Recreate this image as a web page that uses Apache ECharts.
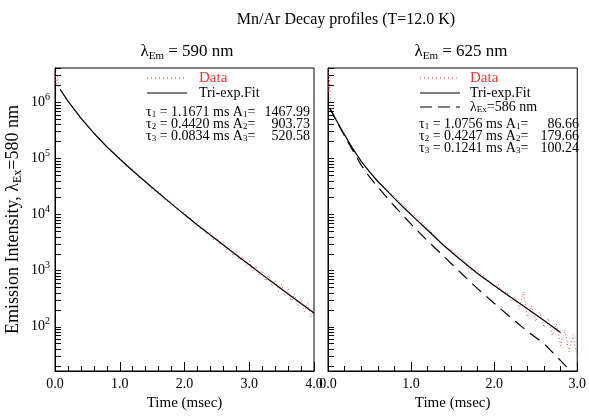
<!DOCTYPE html>
<html>
<head>
<meta charset="utf-8">
<title>Mn/Ar Decay profiles</title>
<script src="https://cdn.jsdelivr.net/npm/echarts@6/dist/echarts.min.js"></script>
<style>
html, body { margin: 0; padding: 0; background: #fff; }
#decay-profiles { width: 589px; height: 416px; }
</style>
</head>
<body>
<div id="decay-profiles"></div>
<script>
// left panel (lambda_Em = 590 nm), time in msec
var dataTimeLeft = [0.00, 0.02, 0.04, 0.06, 0.10, 0.20, 0.30, 0.40, 0.50, 0.60, 0.70, 0.80, 0.90, 1.00,
    1.10, 1.20, 1.30, 1.40, 1.50, 1.60, 1.70, 1.80, 1.90, 2.00, 2.05, 2.10, 2.15, 2.20, 2.25, 2.30,
    2.35, 2.40, 2.45, 2.50, 2.55, 2.60, 2.65, 2.70, 2.75, 2.80, 2.85, 2.90, 2.95, 3.00, 3.05, 3.10,
    3.15, 3.20, 3.25, 3.30, 3.35, 3.40, 3.45, 3.50, 3.55, 3.60, 3.65, 3.70, 3.75, 3.80, 3.85, 3.90,
    3.95, 4.00];
var dataLeft = [3.4e6, 2.0e6, 2.9e6, 1.9e6, 1.58e6, 1.03e6, 7.6e5, 5.2e5, 3.95e5, 2.8e5, 2.2e5, 1.58e5,
    1.30e5, 1.02e5, 7.3e4, 6.4e4, 4.55e4, 4.0e4, 2.85e4, 2.6e4, 1.82e4, 1.65e4, 1.17e4, 1.08e4, 8.4e3,
    8.7e3, 6.7e3, 7.1e3, 5.4e3, 5.8e3, 4.3e3, 4.8e3, 3.55e3, 3.9e3, 2.85e3, 3.2e3, 2.3e3, 2.65e3, 1.85e3,
    2.2e3, 1.5e3, 1.8e3, 1.22e3, 1.5e3, 1.0e3, 1.22e3, 800, 1.0e3, 650, 830, 530, 680, 430, 570, 350,
    470, 285, 390, 230, 320, 185, 265, 150, 215];
var fitTimeLeft = [0.08, 0.2, 0.4, 0.6, 0.8, 1.0, 1.2, 1.4, 1.6, 1.8, 2.0, 2.2, 2.4, 2.6, 2.8, 3.0,
    3.2, 3.4, 3.6, 3.8, 4.0];
var fitLeft = [1.70e6, 1.05e6, 5.25e5, 2.82e5, 1.62e5, 9.77e4, 6.03e4, 3.80e4, 2.43e4, 1.55e4, 1.0e4,
    6530, 4315, 2864, 1905, 1274, 851, 571, 385, 260, 176];

// right panel (lambda_Em = 625 nm)
var dataTimeRight = [0.00, 0.01, 0.02, 0.03, 0.05, 0.10, 0.20, 0.30, 0.40, 0.50, 0.60, 0.70, 0.80, 0.90,
    1.00, 1.10, 1.20, 1.30, 1.40, 1.50, 1.60, 1.70, 1.80, 1.90, 2.00, 2.05, 2.10, 2.15, 2.20, 2.25,
    2.30, 2.35, 2.40, 2.45, 2.50, 2.55, 2.60, 2.65, 2.70, 2.75, 2.80, 2.85, 2.90, 2.95, 3.00];
var dataRight = [4.0e6, 1.5e6, 2.8e6, 1.0e6, 7.0e5, 4.9e5, 2.6e5, 1.52e5, 8.8e4, 5.9e4, 3.85e4, 2.85e4,
    2.1e4, 1.5e4, 1.1e4, 8.2e3, 5.7e3, 3.9e3, 2.7e3, 2.25e3, 1.8e3, 1.05e3, 980, 740, 520, 580, 380,
    430, 280, 340, 205, 420, 150, 235, 125, 180, 98, 140, 70, 112, 46, 88, 36, 72, 29];
var fitTimeRight = [0.02, 0.1, 0.2, 0.3, 0.4, 0.5, 0.6, 0.7, 0.8, 0.9, 1.0, 1.2, 1.4, 1.6, 1.8, 2.0,
    2.2, 2.4, 2.6, 2.8];
var fitRight = [7.94e5, 4.79e5, 2.63e5, 1.48e5, 8.91e4, 5.75e4, 3.89e4, 2.75e4, 1.95e4, 1.38e4, 1.0e4,
    5.25e3, 2.75e3, 1.55e3, 891, 543, 335, 209, 130, 79];
var exTimeRight = [0.02, 0.1, 0.2, 0.3, 0.4, 0.5, 0.6, 0.7, 0.8, 0.9, 1.0, 1.2, 1.4, 1.6, 1.8, 2.0,
    2.2, 2.4, 2.6, 2.8, 2.9, 3.0];
var exRight = [7.94e5, 4.68e5, 2.51e5, 1.38e5, 7.59e4, 4.68e4, 3.09e4, 2.09e4, 1.41e4, 9.77e3, 6.76e3,
    3.39e3, 1.76e3, 912, 479, 263, 146, 83, 50, 25, 17.4, 12];

// fit parameters printed in the panels: [tau (ms), A]
var paramsLeft = [['1.1671', '1467.99'], ['0.4420', '903.73'], ['0.0834', '520.58']];
var paramsRight = [['1.0756', '86.66'], ['0.4247', '179.66'], ['0.1241', '100.24']];

var decadeTicks = [1e2, 1e3, 1e4, 1e5, 1e6];
var yMin = 16.3, yMax = 4.1e6;

var SERIF = '"Liberation Serif", "DejaVu Serif", serif';
var RED = '#ee3a36';

var DecayChart = function() {

    var zip = function(xs, ys) {
        return xs.map(function(x, i) { return [x, ys[i]]; });
    };

    // decades plus 2..9 x 10^n between the axis ends
    var logTicks = function() {
        var out = [];
        for (var e = 1; e <= 6; e++) {
            for (var m = 1; m <= 9; m++) {
                var v = m * Math.pow(10, e);
                if (v > yMin && v < yMax) out.push(v);
            }
        }
        return out;
    };

    var xAxis = function(grid, max) {
        return {
            type: 'value', gridIndex: grid, min: 0, max: max, interval: 1,
            axisLine: { lineStyle: { color: '#000', width: 1 } },
            axisTick: { inside: true, length: 9, lineStyle: { color: '#000' } },
            minorTick: { show: true, splitNumber: 5, length: 5, lineStyle: { color: '#000' } },
            splitLine: { show: false },
            axisLabel: {
                color: '#000', fontFamily: SERIF, fontSize: 14, margin: 6,
                formatter: function(v) { return v.toFixed(1); }
            },
            name: 'Time (msec)', nameLocation: 'middle', nameGap: 25,
            nameTextStyle: { color: '#000', fontFamily: SERIF, fontSize: 15 }
        };
    };

    var yAxis = function(grid, withLabels) {
        var axis = {
            type: 'log', logBase: 10, gridIndex: grid, min: yMin, max: yMax,
            axisLine: { show: true, lineStyle: { color: '#000', width: 1 } },
            axisTick: { inside: true, length: 6, customValues: logTicks(), lineStyle: { color: '#000' } },
            splitLine: { show: false },
            axisLabel: {
                show: withLabels, customValues: decadeTicks, margin: 5,
                color: '#000', fontFamily: SERIF, fontSize: 14, lineHeight: 20,
                formatter: function(v) { return '10{sup|' + Math.round(Math.log10(v)) + '}'; },
                rich: { sup: { fontFamily: SERIF, fontSize: 10, color: '#000', verticalAlign: 'top', lineHeight: 12 } }
            }
        };
        if (withLabels) {
            axis.name = 'Emission Intensity, \u03bb{sub|Ex}=580 nm';
            axis.nameLocation = 'middle';
            axis.nameRotate = 90;
            axis.nameGap = 31;
            axis.nameTextStyle = {
                color: '#000', fontFamily: SERIF, fontSize: 18, lineHeight: 22,
                rich: { sub: { fontFamily: SERIF, fontSize: 12, color: '#000', verticalAlign: 'bottom', lineHeight: 14 } }
            };
        }
        return axis;
    };

    var text = function(x, y, str, opts) {
        opts = opts || {};
        return {
            type: 'text', x: x, y: y, z: 100,
            style: {
                text: str,
                fill: opts.fill || '#000',
                font: (opts.size || 14) + 'px ' + SERIF,
                textAlign: opts.align || 'left', align: opts.align || 'left',
                textVerticalAlign: 'middle', verticalAlign: 'middle',
                rich: {
                    sub: { fontFamily: SERIF, fontSize: 9, fill: '#000', verticalAlign: 'bottom', lineHeight: 10 }
                }
            }
        };
    };

    var sample = function(x1, x2, y, color, dash) {
        return {
            type: 'line', z: 100,
            shape: { x1: x1, y1: y, x2: x2, y2: y },
            style: { stroke: color, lineWidth: dash === 'dot' ? 1 : 1.2, lineDash: dash === 'dot' ? [1, 3] : dash }
        };
    };

    var legend = function(x0, textX, rows, params, numRight, paramTop) {
        var els = [];
        rows.forEach(function(r) {
            els.push(sample(x0, x0 + 40, r.y, r.color, r.dash));
            els.push(text(textX, r.y, r.label, { size: r.size || 14, fill: r.textColor || '#000' }));
        });
        params.forEach(function(p, i) {
            var n = i + 1, y = paramTop + i * 12;
            els.push(text(x0 - 1, y, '\u03c4{sub|' + n + '} = ' + p[0] + ' ms A{sub|' + n + '}='));
            els.push(text(numRight, y, p[1], { align: 'right' }));
        });
        return els;
    };

    var lineSeries = function(name, xi, yi, data, style, z) {
        return {
            name: name, type: 'line', xAxisIndex: xi, yAxisIndex: yi,
            data: data, showSymbol: false, symbol: 'none', smooth: false,
            lineStyle: style, z: z, silent: true
        };
    };

    var _chart = function(id) {
        if (typeof echarts == 'undefined') {
            console.warn('Warning - echarts.min.js is not loaded.');
            return;
        }
        var el = document.getElementById(id);
        if (!el) return;

        var gridStyle = { show: true, borderColor: '#000', borderWidth: 1, backgroundColor: 'transparent' };
        var dataStyle = { color: '#f04848', width: 1, type: [1, 2.5] };
        var fitStyle = { color: '#000', width: 1.2 };
        var subTitle = {
            fontFamily: SERIF, fontSize: 17, fontWeight: 'normal', color: '#000', lineHeight: 20,
            rich: { sub: { fontFamily: SERIF, fontSize: 11, color: '#000', verticalAlign: 'bottom', lineHeight: 12 } }
        };

        var option = {
            animation: false,
            backgroundColor: '#fff',
            title: [
                { text: 'Mn/Ar Decay profiles (T=12.0 K)', left: 341, top: 7, textAlign: 'center',
                  textStyle: { fontFamily: SERIF, fontSize: 16, fontWeight: 'normal', color: '#000' } },
                { text: '\u03bb{sub|Em} = 590 nm', left: 182, top: 37, textAlign: 'center', textStyle: subTitle },
                { text: '\u03bb{sub|Em} = 625 nm', left: 456, top: 37, textAlign: 'center', textStyle: subTitle }
            ],
            grid: [
                Object.assign({ left: 55, top: 68, width: 259, height: 312 }, gridStyle),
                Object.assign({ left: 328, top: 68, width: 258, height: 312 }, gridStyle)
            ],
            xAxis: [xAxis(0, 4), xAxis(1, 3)],
            yAxis: [yAxis(0, true), yAxis(1, false)],
            series: [
                lineSeries('Data', 0, 0, zip(dataTimeLeft, dataLeft), dataStyle, 1),
                lineSeries('Tri-exp.Fit', 0, 0, zip(fitTimeLeft, fitLeft), fitStyle, 2),
                lineSeries('Data', 1, 1, zip(dataTimeRight, dataRight), dataStyle, 1),
                lineSeries('Tri-exp.Fit', 1, 1, zip(fitTimeRight, fitRight), fitStyle, 2),
                lineSeries('\u03bbEx=586 nm', 1, 1, zip(exTimeRight, exRight),
                    { color: '#000', width: 1.2, type: [12, 7] }, 2)
            ],
            graphic: legend(147, 199, [
                { y: 78, label: 'Data', color: RED, dash: 'dot', textColor: RED, size: 15 },
                { y: 93, label: 'Tri-exp.Fit', color: '#000', dash: null }
            ], paramsLeft, 310, 112).concat(legend(420, 470, [
                { y: 78, label: 'Data', color: RED, dash: 'dot', textColor: RED, size: 15 },
                { y: 93, label: 'Tri-exp.Fit', color: '#000', dash: null },
                { y: 107, label: '\u03bb{sub|Ex}=586 nm', color: '#000', dash: [12, 6] }
            ], paramsRight, 579, 124))
        };

        var chart = echarts.init(el, null, { renderer: 'canvas' });
        chart.setOption(option);
    };

    return {
        init: function() {
            _chart('decay-profiles');
        }
    };
}();

document.addEventListener('DOMContentLoaded', function() {
    DecayChart.init();
});
</script>
</body>
</html>
